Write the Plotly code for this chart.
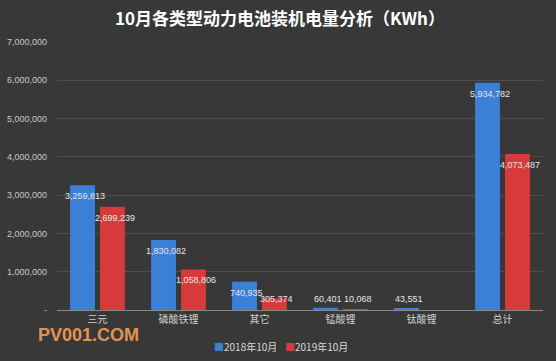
import plotly.graph_objects as go

categories = ["三元", "磷酸铁锂", "其它", "锰酸锂", "钛酸锂", "总计"]
series_names = ["2018年10月", "2019年10月"]
values_2018 = [3259813, 1830082, 740935, 60401, 43551, 5934782]
values_2019 = [2699239, 1058806, 305374, 10068, 0, 4073487]
label_2019_show = [True, True, True, True, False, True]
tick_vals = [0, 1000000, 2000000, 3000000, 4000000, 5000000, 6000000, 7000000]
tick_text = ["-", "1,000,000", "2,000,000", "3,000,000", "4,000,000",
             "5,000,000", "6,000,000", "7,000,000"]

W, H = 556, 361
ML, MR, MT = 57, 13, 42
MB = H - 310
PW, PH = W - ML - MR, H - MT - MB
YMAX = 7000000
px_per_unit = PH / YMAX


def px_to_paper(xpx, ypx):
    return (xpx - ML) / PW, (H - MB - ypx) / PH


fig = go.Figure()
colors = ["#3b7fd6", "#d63a3a"]
for name, vals, col in zip(series_names, [values_2018, values_2019], colors):
    fig.add_trace(go.Bar(
        x=categories, y=vals, name=name,
        marker=dict(color=col, line=dict(width=0)),
        hoverinfo="x+y",
    ))

annotations = []
for si, (vals, shift) in enumerate([(values_2018, -13), (values_2019, 17)]):
    for i, (c, v) in enumerate(zip(categories, vals)):
        if si == 1 and not label_2019_show[i]:
            continue
        bar_px = v * px_per_unit
        d = min(11, bar_px - 11)
        annotations.append(dict(
            x=c, y=v, xref="x", yref="y", text=f"{v:,}",
            showarrow=False, xshift=shift, yshift=-d,
            font=dict(size=9, color="#e6e6e6", family="Liberation Sans, Arial"),
        ))

tx, ty = px_to_paper(W / 2 + 2, 18)
annotations.append(dict(
    x=tx, y=ty, xref="paper", yref="paper",
    text="<b>10月各类型动力电池装机电量分析（KWh）</b>",
    showarrow=False, xanchor="center", yanchor="middle",
    font=dict(size=17, color="#ffffff", family="Noto Sans CJK SC"),
))
wx, wy = px_to_paper(36, 335)
annotations.append(dict(
    x=wx, y=wy, xref="paper", yref="paper",
    text="<b>PV001.COM</b>", showarrow=False, xanchor="left", yanchor="middle",
    font=dict(size=18, color="#e39350", family="Liberation Sans, Arial"),
))
for name, col, xpx in zip(series_names, colors, [212, 283]):
    lx, ly = px_to_paper(xpx, 346)
    annotations.append(dict(
        x=lx, y=ly, xref="paper", yref="paper",
        text=f'<span style="color:{col}">■</span>{name}',
        showarrow=False, xanchor="left", yanchor="middle",
        font=dict(size=10, color="#d8d8d8", family="Noto Sans CJK SC"),
    ))

fig.update_layout(
    width=W, height=H,
    margin=dict(l=ML, r=MR, t=MT, b=MB, autoexpand=False),
    paper_bgcolor="#383838", plot_bgcolor="#383838",
    barmode="group", bargap=0.26, bargroupgap=0.17,
    showlegend=False,
    annotations=annotations,
    xaxis=dict(showgrid=False, showline=True, linecolor="#8a8a8a", linewidth=1,
               ticks="", tickfont=dict(size=10, color="#d0d0d0", family="Noto Sans CJK SC")),
    yaxis=dict(range=[0, YMAX], tickvals=tick_vals, ticktext=tick_text,
               showgrid=True, gridcolor="#4e4e4e", gridwidth=1, zeroline=False,
               showline=False, ticks="", ticklabelstandoff=9,
               tickfont=dict(size=9, color="#c8c8c8", family="Liberation Sans, Arial")),
)

fig.write_html(
    "out.html",
    config={"displayModeBar": False},
    post_script="document.body.style.margin='0';document.body.style.background='#383838';",
)
